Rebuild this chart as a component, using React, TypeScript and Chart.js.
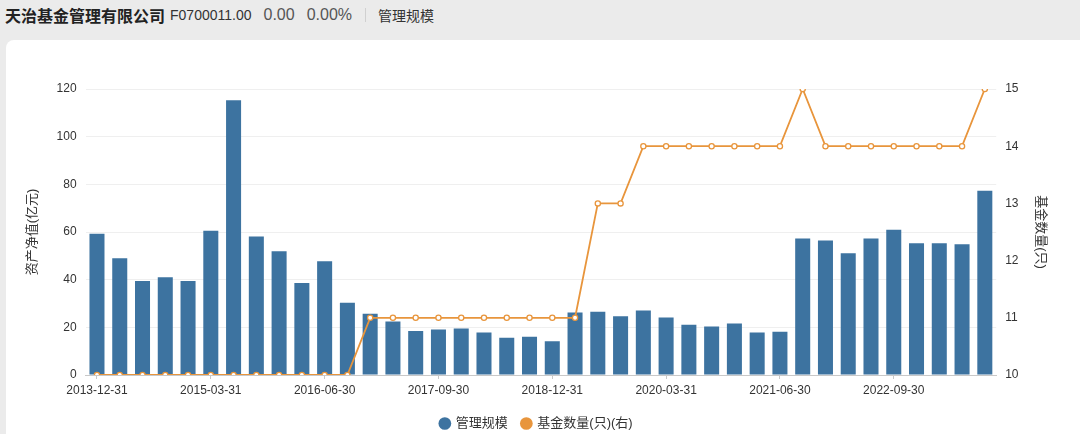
import React, { useEffect, useRef } from "react";
import { Chart, registerables } from "chart.js";

Chart.register(...registerables);

const categories: string[] = [
  "2013-12-31", "2014-03-31", "2014-06-30", "2014-09-30",
  "2014-12-31", "2015-03-31", "2015-06-30", "2015-09-30",
  "2015-12-31", "2016-03-31", "2016-06-30", "2016-09-30",
  "2016-12-31", "2017-03-31", "2017-06-30", "2017-09-30",
  "2017-12-31", "2018-03-31", "2018-06-30", "2018-09-30",
  "2018-12-31", "2019-03-31", "2019-06-30", "2019-09-30",
  "2019-12-31", "2020-03-31", "2020-06-30", "2020-09-30",
  "2020-12-31", "2021-03-31", "2021-06-30", "2021-09-30",
  "2021-12-31", "2022-03-31", "2022-06-30", "2022-09-30",
  "2022-12-31", "2023-03-31", "2023-06-30", "2023-09-30",
];

const scaleValues: number[] = [
  59.3, 49.0, 39.4, 41.0, 39.4, 60.5, 115.3, 58.1, 51.9, 38.6,
  47.7, 30.3, 25.7, 22.5, 18.5, 19.1, 19.5, 17.8, 15.6, 16.1,
  14.2, 26.2, 26.5, 24.7, 27.1, 24.1, 21.1, 20.4, 21.6, 17.8,
  18.1, 57.3, 56.4, 51.1, 57.3, 60.9, 55.3, 55.3, 54.9, 77.3,
];

const fundCounts: number[] = [
  10, 10, 10, 10, 10, 10, 10, 10, 10, 10,
  10, 10, 11, 11, 11, 11, 11, 11, 11, 11,
  11, 11, 13, 13, 14, 14, 14, 14, 14, 14,
  14, 15, 14, 14, 14, 14, 14, 14, 14, 15,
];

const leftTicks: number[] = [0, 20, 40, 60, 80, 100, 120];
const rightTicks: number[] = [10, 11, 12, 13, 14, 15];

const BAR_COLOR = "#3d73a0";
const LINE_COLOR = "#e8953c";
const FONT = '"Liberation Sans", "Noto Sans CJK SC", sans-serif';

export default function App() {
  const canvasRef = useRef<HTMLCanvasElement | null>(null);

  useEffect(() => {
    document.body.style.margin = "0";
    document.body.style.background = "#ebebeb";
    const canvas = canvasRef.current;
    if (!canvas) return;
    const chart = new Chart(canvas, {
      type: "bar",
      data: {
        labels: categories,
        datasets: [
          {
            type: "bar",
            label: "管理规模",
            data: scaleValues,
            backgroundColor: BAR_COLOR,
            yAxisID: "y",
            categoryPercentage: 1,
            barPercentage: 0.66,
            order: 2,
          },
          {
            type: "line",
            label: "基金数量(只)(右)",
            data: fundCounts,
            borderColor: LINE_COLOR,
            backgroundColor: LINE_COLOR,
            borderWidth: 1.8,
            pointRadius: 2.6,
            pointBorderWidth: 1.3,
            pointBackgroundColor: "#ffffff",
            pointBorderColor: LINE_COLOR,
            tension: 0,
            yAxisID: "y1",
            order: 1,
          } as any,
        ],
      },
      options: {
        animation: false,
        responsive: false,
        maintainAspectRatio: false,
        layout: { padding: { left: 15, right: 28, top: 49, bottom: 2 } },
        scales: {
          x: {
            grid: {
              display: true,
              drawOnChartArea: false,
              offset: false,
              tickLength: 4,
              color: (ctx: any) => (ctx.index % 5 === 0 ? "#c8c8c8" : "rgba(0,0,0,0)"),
            },
            border: { display: true, color: "#c8c8c8" },
            ticks: {
              autoSkip: false,
              maxRotation: 0,
              minRotation: 0,
              padding: 4,
              color: "#333",
              font: { family: FONT, size: 12 },
              callback: (_v: any, i: number) => (i % 5 === 0 ? categories[i] : ""),
            },
            afterFit: (s: any) => { s.height = 28; },
          },
          y: {
            position: "left",
            min: 0,
            max: 120,
            afterBuildTicks: (s: any) => { s.ticks = leftTicks.map((v) => ({ value: v })); },
            grid: { color: "#efefef", drawTicks: false },
            border: { display: false },
            ticks: { padding: 9, color: "#333", font: { family: FONT, size: 12 } },
            title: {
              display: true,
              text: "资产净值(亿元)",
              color: "#333",
              font: { family: FONT, size: 13 },
            },
            afterFit: (s: any) => { s.width = 64.6; },
          },
          y1: {
            position: "right",
            min: 10,
            max: 15,
            afterBuildTicks: (s: any) => { s.ticks = rightTicks.map((v) => ({ value: v })); },
            grid: { display: false, drawTicks: false },
            border: { display: false },
            ticks: { padding: 9, color: "#333", font: { family: FONT, size: 12 } },
            title: {
              display: true,
              text: "基金数量(只)",
              color: "#333",
              font: { family: FONT, size: 13 },
            },
            afterFit: (s: any) => { s.width = 55.8; },
          },
        },
        plugins: {
          tooltip: { enabled: false },
          legend: {
            position: "bottom",
            labels: {
              usePointStyle: true,
              pointStyle: "circle",
              boxWidth: 9,
              boxHeight: 9,
              padding: 14,
              color: "#333",
              font: { family: FONT, size: 13 },
              sort: (a: any, b: any) => a.datasetIndex - b.datasetIndex,
              generateLabels: () => [
                { text: "管理规模", fillStyle: BAR_COLOR, strokeStyle: BAR_COLOR, lineWidth: 0, pointStyle: "circle", datasetIndex: 0, fontColor: "#333" },
                { text: "基金数量(只)(右)", fillStyle: LINE_COLOR, strokeStyle: LINE_COLOR, lineWidth: 0, pointStyle: "circle", datasetIndex: 1, fontColor: "#333" },
              ] as any,
            },
          },
        },
      },
    });
    return () => chart.destroy();
  }, []);

  return (
    <div style={{ width: 1080, height: 434, background: "#ebebeb", overflow: "hidden", fontFamily: FONT }}>
      <div style={{ height: 40, display: "flex", alignItems: "center", paddingLeft: 5, color: "#222", whiteSpace: "nowrap" }}>
        <span style={{ fontSize: 16, fontWeight: 700, fontFamily: '"Noto Sans CJK SC", sans-serif', marginTop: -10 }}>天治基金管理有限公司</span>
        <span style={{ fontSize: 14, marginLeft: 5, color: "#333", marginTop: -10 }}>F0700011.00</span>
        <span style={{ fontSize: 16, marginLeft: 12, color: "#555", marginTop: -10 }}>0.00</span>
        <span style={{ fontSize: 16, marginLeft: 12, color: "#555", marginTop: -10 }}>0.00%</span>
        <span style={{ display: "inline-block", width: 1, height: 14, background: "#d0d0d0", marginLeft: 13, marginTop: -10 }} />
        <span style={{ fontSize: 14, marginLeft: 12, color: "#333", fontFamily: '"Noto Sans CJK SC", sans-serif', marginTop: -10 }}>管理规模</span>
      </div>
      <div style={{ marginLeft: 6, width: 1074, height: 394, background: "#ffffff", borderTopLeftRadius: 8, overflow: "hidden" }}>
        <canvas ref={canvasRef} width={1074} height={402} style={{ display: "block", width: 1074, height: 402 }} />
      </div>
    </div>
  );
}
